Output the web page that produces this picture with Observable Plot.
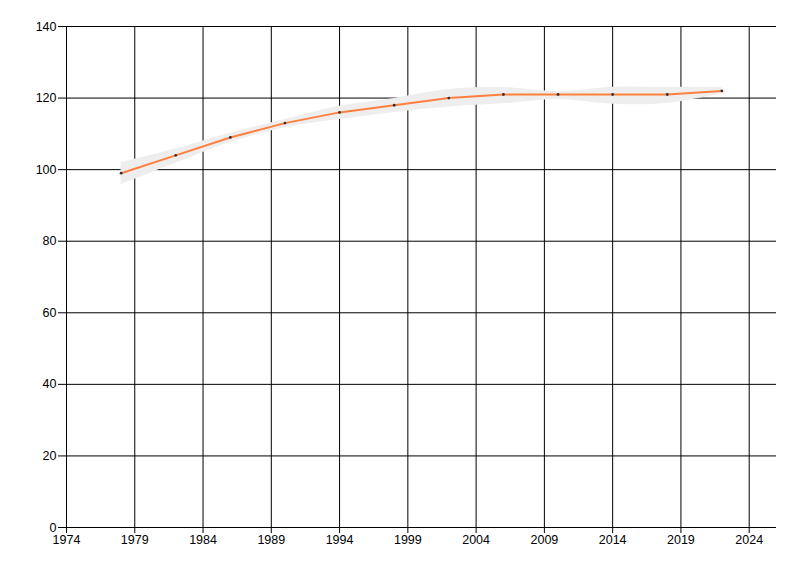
<!DOCTYPE html>
<html>
<head>
<meta charset="utf-8">
<script src="https://cdn.jsdelivr.net/npm/d3@7"></script>
<script src="https://cdn.jsdelivr.net/npm/@observablehq/plot@0.6"></script>
<style>
  html, body { margin: 0; padding: 0; background: #fff; }
  #chart { width: 800px; height: 576px; }
</style>
</head>
<body>
<div id="chart"></div>
<script>
const years  = [1978, 1982, 1986, 1990, 1994, 1998, 2002, 2006, 2010, 2014, 2018, 2022];
const values = [99, 104, 109, 113, 116, 118, 120, 121, 121, 121, 121, 122];
const upper  = [102, 105.8, 110.2, 114, 117.7, 119.9, 122.4, 122.9, 121.8, 123, 123, 123];
const lower  = [95.8, 101.8, 107.6, 111.7, 114, 116, 117.5, 118.4, 119.6, 118.3, 118.5, 121.2];
const xTicks = [1974, 1979, 1984, 1989, 1994, 1999, 2004, 2009, 2014, 2019, 2024];
const yTicks = [0, 20, 40, 60, 80, 100, 120, 140];

const data = years.map((year, i) => ({year, value: values[i], lo: lower[i], hi: upper[i]}));

const chart = Plot.plot({
  width: 800,
  height: 576,
  marginLeft: 66,
  marginRight: 24,
  marginTop: 26,
  marginBottom: 49,
  style: {fontFamily: "'Liberation Sans Narrow', 'Liberation Sans', sans-serif", fontSize: "12.5px", color: "#000", background: "#fff"},
  x: {domain: [1974, 2026]},
  y: {domain: [0, 140]},
  marks: [
    Plot.gridX(xTicks, {stroke: "#000", strokeOpacity: 1}),
    Plot.gridY(yTicks, {stroke: "#000", strokeOpacity: 1}),
    Plot.areaY(data, {x: "year", y1: "lo", y2: "hi", fill: "#eeeeee", curve: "catmull-rom"}),
    Plot.lineY(data, {x: "year", y: "value", stroke: "#ff7f3f", strokeWidth: 2, curve: "linear"}),
    Plot.dot(data, {x: "year", y: "value", r: 1.4, fill: "#333", stroke: "none"}),
    Plot.axisX(xTicks, {tickFormat: d => String(d), tickSize: 6, tickPadding: 2, fill: "#000", stroke: "#000", label: null}),
    Plot.axisY(yTicks, {tickFormat: d => String(d), tickSize: 8, tickPadding: 2, fill: "#000", stroke: "#000", label: null})
  ]
});
document.getElementById("chart").appendChild(chart);
</script>
</body>
</html>
